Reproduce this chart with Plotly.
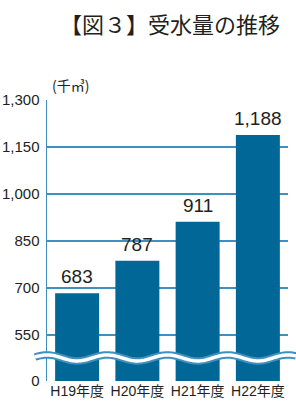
import math
import plotly.graph_objects as go

# ---- data ----
categories = ["H19年度", "H20年度", "H21年度", "H22年度"]
values = [683, 787, 911, 1188]
value_labels = ["683", "787", "911", "1,188"]
tick_values = [550, 700, 850, 1000, 1150, 1300]
tick_labels = ["550", "700", "850", "1,000", "1,150", "1,300"]
zero_label = "0"

# ---- styling ----
BAR = "#006796"
GRID = "#3f8fc0"
TXT = "#231f20"
NUM_FONT = "Liberation Sans, Arial, sans-serif"
JP_FONT = "Noto Sans CJK JP, sans-serif"

AXIS_MIN = 403          # position of the broken-axis "0"
AXIS_MAX = 1300
BREAK_VAL = 476.6       # where the wavy break sits

W, H = 296, 408
ML, MR, MT, MB = 47, 8, 100, 27
PW, PH = W - ML - MR, H - MT - MB

fig = go.Figure()
fig.add_trace(go.Bar(
    x=categories, y=values,
    marker=dict(color=BAR, line=dict(width=0)),
    width=0.73, hoverinfo="skip",
))

for c, v, t in zip(categories, values, value_labels):
    fig.add_annotation(x=c, y=v, text=t, showarrow=False, yanchor="bottom",
                       yshift=4, font=dict(family="Liberation Sans, Arial, sans-serif",
                                           size=19, color=TXT))

# wavy break (paper coordinates, period = one category)
n = len(categories)
y0 = (BREAK_VAL - AXIS_MIN) / (AXIS_MAX - AXIS_MIN)
amp = 3.0 / PH
x_start = -12 / PW
x_end = (W - ML) / PW
xs = [x_start + i * ((x_end - x_start) / 200) for i in range(201)]
pts = []
for xp in xs:
    yp = y0 - amp * math.cos(2 * math.pi * (xp - 0.5 / n) * n)
    pts.append(f"{xp:.5f},{yp:.5f}")
path = "M " + " L ".join(pts)
fig.add_shape(type="path", path=path, xref="paper", yref="paper",
              line=dict(color=GRID, width=7.5), layer="above")
fig.add_shape(type="path", path=path, xref="paper", yref="paper",
              line=dict(color="white", width=3.5), layer="above")

fig.add_annotation(text="【図３】受水量の推移", xref="paper", yref="paper",
                   x=(170 - ML) / PW, y=1 + (MT - 23) / PH,
                   xanchor="center", yanchor="middle",
                   showarrow=False, font=dict(family=JP_FONT, size=22, color=TXT))
fig.add_annotation(text="(千㎥)", xref="paper", yref="paper",
                   x=(50 - ML) / PW, y=1 + 15 / PH, xanchor="left", yanchor="middle",
                   showarrow=False, font=dict(family=JP_FONT, size=14, color=TXT))

fig.update_layout(
    width=W, height=H,
    margin=dict(l=ML, r=MR, t=MT, b=MB, autoexpand=False),
    paper_bgcolor="white", plot_bgcolor="white",
    showlegend=False,
    bargap=0.27,
    hovermode=False,
    xaxis=dict(showgrid=False, zeroline=False, showline=False, ticks="",
               automargin=False,
               tickfont=dict(family=NUM_FONT + ", " + JP_FONT, size=14, color=TXT),
               fixedrange=True),
    yaxis=dict(range=[AXIS_MIN, AXIS_MAX],
               tickvals=[AXIS_MIN] + tick_values,
               ticktext=[zero_label] + tick_labels,
               showgrid=True, gridcolor=GRID, gridwidth=1.5,
               zeroline=False, showline=True, linecolor=GRID, linewidth=1.5,
               ticks="", ticklabelstandoff=3, automargin=False,
               tickfont=dict(family=NUM_FONT, size=15, color=TXT),
               fixedrange=True),
)

fig.write_html("out.html",
               config={"displayModeBar": False, "staticPlot": True},
               post_script="document.body.style.margin='0px';document.body.style.padding='0px';")
